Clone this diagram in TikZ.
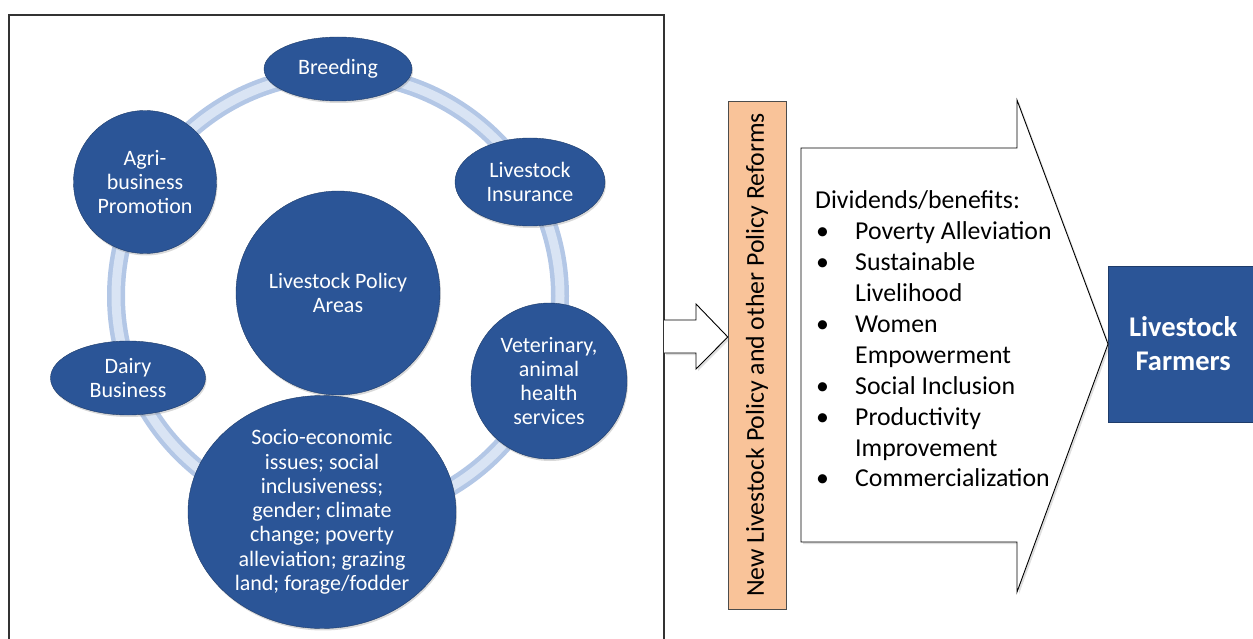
\documentclass[tikz,border=0pt]{standalone}
\usepackage{fontspec}
\setmainfont{Carlito}
\usetikzlibrary{shapes.geometric,shadows}
\definecolor{areablue}{HTML}{2B5597}
\definecolor{ringblue}{HTML}{B3C7E6}
\definecolor{ringlight}{HTML}{D9E4F4}
\definecolor{reformorange}{HTML}{F9C399}

\begin{document}
\begin{tikzpicture}[x=1pt,y=-1pt,
    area/.style={draw=areablue!70!black,fill=areablue,text=white,align=center,inner sep=0pt,
        font=\fontsize{22}{24.3}\selectfont,
        drop shadow={opacity=0.3,shadow xshift=1pt,shadow yshift=-2pt}},
    blockarrow/.style={draw=black,fill=white,line width=0.9,
        drop shadow={opacity=0.25,shadow xshift=2pt,shadow yshift=-2pt}}]
        \useasboundingbox (0,0) rectangle (1253,639);
        % left frame and ring
        \draw[line width=1.2,black!80] (9,645) -- (9,15) -- (664,15) -- (664,645);
        \draw[ringblue,line width=18] (338,296) circle[radius=222];
        \draw[ringlight,line width=9] (338,296) circle[radius=222];
        % policy areas
        \node[area,circle,minimum size=204] (core) at (338,293) {Livestock Policy\\Areas};
        \node[area,ellipse,minimum width=148,minimum height=64] (breed) at (338,69) {Breeding};
        \node[area,ellipse,minimum width=150,minimum height=88] (insure) at (530,182) {Livestock\\Insurance};
        \node[area,circle,minimum size=143] (agri) at (145,182) {Agri-\\business\\Promotion};
        \node[area,circle,minimum size=156] (vet) at (549,381) {Veterinary,\\animal\\health\\services};
        \node[area,ellipse,minimum width=155,minimum height=74] (dairy) at (128,378) {Dairy\\Business};
        \node[area,ellipse,minimum width=268,minimum height=229] (socio) at (322,512) {Socio-economic\\issues; social\\inclusiveness;\\gender; climate\\change; poverty\\alleviation; grazing\\land; forage/fodder};
        % reforms and farmers
        \node[draw=black!70,fill=reformorange,rotate=90,minimum width=508,minimum height=58,inner sep=0pt,
            font=\fontsize{25.8}{28}\selectfont] (reform) at (757,355) {New Livestock Policy and other Policy Reforms};
        \node[fill=areablue,draw=areablue!70!black,text=white,align=center,anchor=west,minimum width=150,
            minimum height=156,font=\bfseries\fontsize{28.5}{34}\selectfont] (farm) at (1108,344) {Livestock\\Farmers};
        \coordinate (lvl) at (0,337);
        \coordinate (edge) at (664,337);
        \draw[blockarrow] (edge |- 0,320) -- (696,320) -- (696,304) -- (reform.north |- lvl) -- (696,369) -- (696,353) -- (edge |- 0,353);
        \draw[blockarrow] (801,148) -- (1017,148) -- (1017,100) -- (farm.west) -- (1017,592) -- (1017,542) -- (801,542) -- cycle;
        \node[anchor=west,align=left,inner sep=0pt,font=\fontsize{25.8}{30.9}\selectfont] (gains) at (815,339)
            {Dividends/benefits:\\
             \makebox[40pt][l]{\hspace{1pt}\textbullet}Poverty Alleviation\\
             \makebox[40pt][l]{\hspace{1pt}\textbullet}Sustainable\\
             \hspace*{40pt}Livelihood\\
             \makebox[40pt][l]{\hspace{1pt}\textbullet}Women\\
             \hspace*{40pt}Empowerment\\
             \makebox[40pt][l]{\hspace{1pt}\textbullet}Social Inclusion\\
             \makebox[40pt][l]{\hspace{1pt}\textbullet}Productivity\\
             \hspace*{40pt}Improvement\\
             \makebox[40pt][l]{\hspace{1pt}\textbullet}Commercialization};
\end{tikzpicture}
\end{document}
